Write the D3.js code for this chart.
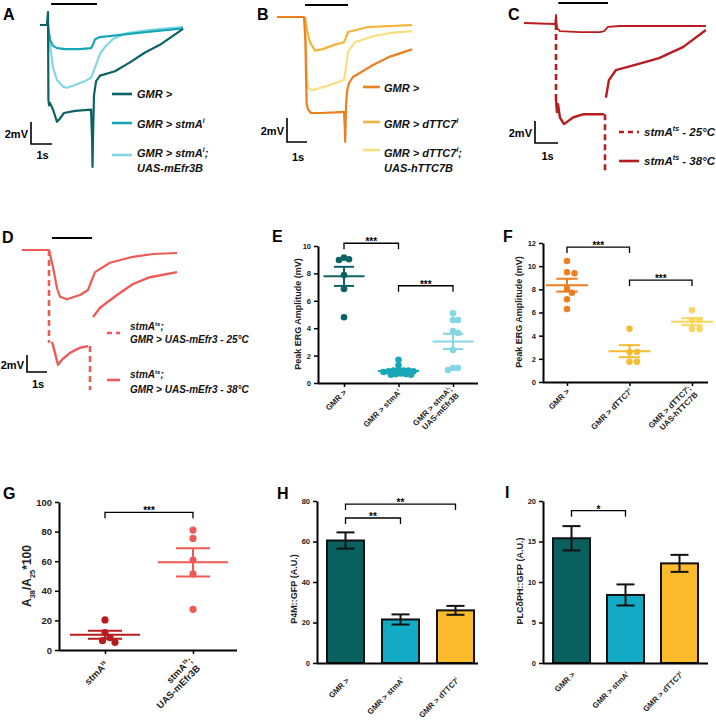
<!DOCTYPE html>
<html>
<head>
<meta charset="utf-8">
<script src="https://cdn.jsdelivr.net/npm/d3@7"></script>
<style>
body { margin: 0; background: #fff; }
svg { font-family: Arial, "Liberation Sans", sans-serif; }
</style>
</head>
<body>
<div id="viz"></div>
<script>
// ---------------- data ----------------
// ERG traces: [time (s) from light onset, potential (mV) from baseline]
var aGMR = [[-0.38,0],[-0.05,0],[0,1.18],[0.02,-6.8],[0.05,-7.3],[0.1,-7.1],[0.24,-7.7],[0.43,-8.8],[0.57,-8.5],[0.76,-8.0],[1.29,-7.8],[2.05,-7.7],[2.1,-10.4],[2.12,-12.9],[2.14,-10.4],[2.19,-6.4],[2.29,-5.1],[2.48,-4.6],[3.19,-4.2],[3.9,-3.4],[4.62,-2.5],[5.33,-1.8],[6.43,-0.36]];
var aStmA = [[0,0],[0.1,-1.36],[0.24,-1.9],[0.43,-2.1],[0.81,-2.2],[1.52,-2.2],[2.05,-2.1],[2.14,-1.8],[2.24,-1.3],[2.48,-1.1],[3.43,-0.9],[4.86,-0.6],[6.43,-0.3]];
var aEfr3B = [[0,0],[0.1,-1.8],[0.24,-3.9],[0.43,-5.0],[0.71,-5.6],[0.9,-5.7],[1.29,-5.45],[1.76,-5.1],[2.05,-4.8],[2.19,-4.1],[2.33,-3.4],[2.48,-2.6],[2.76,-1.9],[3.1,-1.27],[3.76,-0.73],[4.86,-0.45],[6.43,-0.18]];

var bGMR = [[-1.4,0],[-0.05,0],[0.02,-2],[0.08,-7.2],[0.15,-7.7],[0.3,-8.0],[0.8,-8.0],[1.5,-7.95],[1.95,-7.9],[1.99,-9.2],[2.01,-10.4],[2.05,-7.5],[2.1,-6.2],[2.2,-5.5],[2.4,-5.0],[3.4,-4.0],[4.25,-3.3],[5.35,-2.7]];
var bTTC7 = [[0,0],[0.1,-1.1],[0.25,-2.1],[0.5,-2.8],[0.85,-2.7],[1.5,-2.3],[1.95,-2.1],[2.05,-1.7],[2.15,-1.25],[2.5,-1.1],[3.1,-0.85],[4.25,-0.75],[5.35,-0.67]];
var bHTTC7B = [[0,0],[0.05,-2.5],[0.1,-5.0],[0.15,-5.9],[0.35,-6.1],[1.1,-5.75],[1.95,-5.25],[2.05,-4.2],[2.15,-2.9],[2.5,-2.1],[3.4,-1.6],[4.25,-1.33],[5.35,-1.17]];

var c25 = [[-1.39,0.09],[-0.04,0],[0,0.82],[0.04,-0.36],[0.17,-0.64],[1.04,-0.73],[1.91,-0.73],[2.09,-0.64],[2.26,-0.27],[2.78,-0.18],[6.52,-0.18]];
var c38On = [[0,-6.9],[0.04,-8.0],[0.09,-7.3],[0.17,-8.5],[0.35,-9.1],[0.74,-8.5],[1.2,-8.2],[2.09,-8.2]];
var c38Off = [[2.17,-6.7],[2.3,-5.1],[2.6,-4.2],[3.48,-3.7],[4.48,-3.1],[5.52,-2.1],[6.52,-0.55]];
var c38DashOn = [[0,0],[0,-7.2]];
var c38DashOff = [[2.13,-8.2],[2.13,-13.5]];

var d25 = [[-1.35,0],[0,0],[0.2,-2.0],[0.4,-4.5],[0.55,-5.5],[0.9,-5.8],[1.55,-5.3],[1.95,-4.7],[2.15,-3.5],[2.3,-2.6],[3.05,-1.5],[4.2,-0.8],[5.2,-0.47],[6.4,-0.35]];
var d38On = [[0.15,-10.8],[0.3,-12.1],[0.45,-13.5],[0.65,-12.9],[1.05,-12.1],[1.55,-11.5],[1.95,-11.3]];
var d38Off = [[2.2,-7.9],[2.55,-6.8],[3.4,-5.3],[4.2,-4.0],[5.05,-3.2],[6.4,-2.6]];
var d38DashOn = [[0,0],[0,-10.9]];
var d38DashOff = [[2.05,-11.3],[2.05,-16.5]];

// E: peak ERG amplitude (mV)
var eCats = ["GMR >", "GMR > stmA^{i}", "GMR > stmA^{i};|UAS-mEfr3B"];
var eGMR = [9.15, 9.03, 8.98, 7.88, 6.86, 4.8];
var eStmA = [1.7, 1.3, 0.95, 0.9, 0.9, 0.9, 0.85, 0.85, 0.8, 0.7, 0.65, 0.65, 0.6, 0.6];
var eEfr3B = [5.09, 4.6, 4.6, 3.8, 3.65, 2.4, 1.1, 1.1, 0.95];
var eTicks = [0, 2, 4, 6, 8, 10];
var eBrackets = [[0, 1, 10.2, "***"], [1, 2, 7.1, "***"]];

// F: peak ERG amplitude (mV)
var fCats = ["GMR >", "GMR > dTTC7^{i}", "GMR > dTTC7^{i};|UAS-hTTC7B"];
var fGMR = [10.45, 9.47, 9.39, 8.06, 7.71, 7.14, 6.3];
var fTTC7 = [4.6, 2.6, 2.6, 1.75, 1.75];
var fHTTC7B = [6.2, 5.35, 5.35, 4.57, 4.57];
var fTicks = [0, 2, 4, 6, 8, 10, 12];
var fBrackets = [[0, 1, 11.65, "***"], [1, 2, 8.8, "***"]];

// G: A38/A25*100
var gCats = ["stmA^{ts}", "stmA^{ts};|UAS-mEfr3B"];
var gStmA = [20.3, 11.7, 8.3, 6.3, 5.2];
var gEfr3B = [81, 75.4, 60.8, 51.4, 27.5];
var gTicks = [0, 20, 40, 60, 80, 100];
var gBrackets = [[0, 1, 93, "***"]];

// H: P4M::GFP
var hCats = ["GMR >", "GMR > stmA^{i}", "GMR > dTTC7^{i}"];
var hMeans = [60.5, 21.5, 26];
var hSems = [4, 2.5, 2.2];
var hTicks = [0, 20, 40, 60, 80];
var hBrackets = [[0, 2, 78.5, "**"], [0, 1, 71.6, "**"]];

// I: PLCdPH::GFP
var iCats = ["GMR >", "GMR > stmA^{i}", "GMR > dTTC7^{i}"];
var iMeans = [15.4, 8.4, 12.3];
var iSems = [1.5, 1.3, 1.05];
var iTicks = [0, 5, 10, 15, 20];
var iBrackets = [[0, 1, 18.8, "*"]];

var teal = ["#0c6366", "#17a7b8", "#84d7e2"];
var orange = ["#ec7f1f", "#f4b43a", "#f9df80"];
var scatOrange = ["#ee7d1e", "#f6bb2e", "#fbd65a"];
var barCols = ["#0a5f5f", "#12aac4", "#f9bb2a"];
var red38 = "#b71c1f", coral = "#ee5a56";

// ---------------- drawing ----------------
var svg = d3.select("#viz").append("svg")
	.attr("width", 716)
	.attr("height", 721);
svg.append("rect").attr("width", 716).attr("height", 721).attr("fill", "#fff");

// text with ^{sup} and _{sub} markup
function rich(text, str, fs) {
	var re = /\^\{([^}]*)\}|_\{([^}]*)\}/g, last = 0, cur = 0, m;
	function add(s, tgt, small) {
		if (!s) return;
		var t = text.append("tspan").text(s).attr("dy", tgt - cur);
		if (small) t.attr("font-size", fs * 0.62);
		cur = tgt;
	}
	while ((m = re.exec(str)) !== null) {
		add(str.slice(last, m.index), 0, false);
		if (m[1] !== undefined) add(m[1], -fs * 0.42, true);
		else add(m[2], fs * 0.3, true);
		last = re.lastIndex;
	}
	add(str.slice(last), 0, false);
	return text;
}

function letter(x, y, s) {
	svg.append("text").attr("x", x).attr("y", y)
		.attr("font-size", 16).attr("font-weight", "bold").text(s);
}

function tracePanel(p) {
	var g = svg.append("g");
	var x = d3.scaleLinear().domain([0, 1]).range([p.ox, p.ox + p.sx]);
	var y = d3.scaleLinear().domain([0, 1]).range([p.oy, p.oy - p.sy]);
	var line = d3.line().x(function(d){ return x(d[0]); }).y(function(d){ return y(d[1]); });

	p.traces.forEach(function(tr){
		g.append("path").datum(tr.pts)
			.attr("d", line)
			.attr("fill", "none")
			.attr("stroke", tr.color)
			.attr("stroke-width", tr.w || 2.2)
			.attr("stroke-linejoin", "round")
			.attr("stroke-dasharray", tr.dash ? "6,4" : null);
	});

	// light stimulus
	g.append("line")
		.attr("x1", x(p.stim[0])).attr("x2", x(p.stim[1]))
		.attr("y1", p.stimY).attr("y2", p.stimY)
		.attr("stroke", "#000").attr("stroke-width", 2);

	// scale bar 1 s / 2 mV
	var bx = p.bar[0], by = p.bar[1];
	var l1 = x(1) - x(0), l2 = y(0) - y(2);
	g.append("path")
		.attr("d", "M" + bx + "," + (by - l2) + "V" + by + "H" + (bx + l1))
		.attr("fill", "none").attr("stroke", "#000").attr("stroke-width", 1.6);
	g.append("text").attr("x", bx - 3).attr("y", by - l2 / 2 + 5)
		.attr("text-anchor", "end").attr("font-size", 11).attr("font-weight", "bold").text("2mV");
	g.append("text").attr("x", bx + l1 / 2 + 1).attr("y", by + p.sDy)
		.attr("text-anchor", "middle").attr("font-size", 11).attr("font-weight", "bold").text("1s");

	// legend
	p.legend.forEach(function(l){
		g.append("line")
			.attr("x1", p.lx[0]).attr("x2", p.lx[1])
			.attr("y1", l.y).attr("y2", l.y)
			.attr("stroke", l.color).attr("stroke-width", 2.6)
			.attr("stroke-dasharray", l.dash ? "5,4" : null);
		l.text.forEach(function(tx){
			var t = g.append("text").attr("x", p.tx).attr("y", tx[1])
				.attr("font-size", p.fs).attr("font-weight", "bold").attr("font-style", "italic")
				.attr("fill", "#111");
			rich(t, tx[0], p.fs);
		});
	});
}

function styleAxis(ag, fs) {
	ag.attr("font-family", null);
	ag.select(".domain").attr("stroke-width", 2);
	ag.selectAll(".tick line").attr("stroke-width", 1.5);
	ag.selectAll(".tick text").attr("font-size", fs).attr("font-weight", "bold").attr("fill", "#222");
}

function xLabels(g, xs, cats, p) {
	cats.forEach(function(c, i){
		var lines = c.split("|"), n = lines.length;
		lines.forEach(function(ln, k){
			var t = g.append("text")
				.attr("transform", "translate(" + (xs[i] + p.lab[0]) + "," + (p.yBase + p.lab[1]) + ") rotate(-45)")
				.attr("y", (k - (n - 1) / 2) * p.xfs * 1.15)
				.attr("text-anchor", "end")
				.attr("font-size", p.xfs).attr("font-weight", "bold").attr("fill", "#222");
			rich(t, ln, p.xfs);
		});
	});
}

function yLabel(g, p) {
	var t = g.append("text")
		.attr("transform", "translate(" + p.yl[0] + "," + p.yl[1] + ") rotate(-90)")
		.attr("text-anchor", "middle")
		.attr("font-size", p.yfs).attr("font-weight", "bold").attr("fill", "#222");
	rich(t, p.ylabel, p.yfs);
}

function brackets(g, xs, y, list) {
	list.forEach(function(b){
		var yb = y(b[2]);
		g.append("path")
			.attr("d", "M" + xs[b[0]] + "," + (yb + 6) + "V" + yb + "H" + xs[b[1]] + "V" + (yb + 6))
			.attr("fill", "none").attr("stroke", "#000").attr("stroke-width", 1.3);
		g.append("text").attr("x", (xs[b[0]] + xs[b[1]]) / 2).attr("y", yb + 2)
			.attr("text-anchor", "middle").attr("font-size", 10).attr("font-weight", "bold").text(b[3]);
	});
}

// simple beeswarm: horizontal offsets so dots only partly overlap
function swarm(vals, y, gap, step) {
	var placed = [];
	var cands = [0];
	for (var j = 1; j < 60; j++) { cands.push(j * step, -j * step); }
	vals.slice().sort(function(a, b){ return b - a; }).forEach(function(v){
		var py = y(v), off = 0;
		for (var c = 0; c < cands.length; c++) {
			var ok = placed.every(function(q){ return Math.hypot(q.x - cands[c], q.y - py) >= gap; });
			if (ok) { off = cands[c]; break; }
		}
		placed.push({x: off, y: py});
	});
	return placed;
}

function scatterPanel(p) {
	var g = svg.append("g");
	var y = d3.scaleLinear().domain([0, d3.max(p.ticks)]).range([p.yBase, p.yTop]);
	var x = d3.scalePoint().domain(p.cats).range(p.catRange);
	var xs = p.cats.map(function(c){ return x(c); });

	var ya = g.append("g").attr("transform", "translate(" + p.x0 + ",0)")
		.call(d3.axisLeft(y).tickValues(p.ticks).tickSize(4).tickSizeOuter(0));
	styleAxis(ya, p.tfs);
	var xa = g.append("g").attr("transform", "translate(0," + p.yBase + ")")
		.call(d3.axisBottom(x).tickSize(4).tickFormat(""));
	xa.select(".domain").remove();
	xa.selectAll(".tick line").attr("stroke-width", 1.5);
	g.append("line").attr("x1", p.x0).attr("x2", p.x1).attr("y1", p.yBase + 0.5).attr("y2", p.yBase + 0.5)
		.attr("stroke", "#000").attr("stroke-width", 2);

	p.groups.forEach(function(vals, i){
		var cx = xs[i], col = p.colors[i];
		swarm(vals, y, p.gap, 2.5).forEach(function(d){
			g.append("circle").attr("cx", cx + d.x).attr("cy", d.y).attr("r", p.r).attr("fill", col);
		});
		var m = d3.mean(vals), se = d3.deviation(vals) / Math.sqrt(vals.length);
		var ml = g.append("g").attr("stroke", col).attr("stroke-width", 2);
		ml.append("line").attr("x1", cx - p.mh).attr("x2", cx + p.mh).attr("y1", y(m)).attr("y2", y(m));
		ml.append("line").attr("x1", cx - p.sh).attr("x2", cx + p.sh).attr("y1", y(m + se)).attr("y2", y(m + se));
		ml.append("line").attr("x1", cx - p.sh).attr("x2", cx + p.sh).attr("y1", y(m - se)).attr("y2", y(m - se));
		ml.append("line").attr("x1", cx).attr("x2", cx).attr("y1", y(m + se)).attr("y2", y(m - se));
	});

	brackets(g, xs, y, p.brackets);
	yLabel(g, p);
	xLabels(g, xs, p.cats, p);
}

function barPanel(p) {
	var g = svg.append("g");
	var y = d3.scaleLinear().domain([0, d3.max(p.ticks)]).range([p.yBase, p.yTop]);
	var x = d3.scaleBand().domain(d3.range(p.cats.length)).range(p.band).paddingInner(p.pad);
	var xs = p.cats.map(function(c, i){ return x(i) + x.bandwidth() / 2; });

	g.selectAll("rect.bar").data(p.means).enter().append("rect")
		.attr("x", function(d, i){ return x(i); })
		.attr("y", function(d){ return y(d); })
		.attr("width", x.bandwidth())
		.attr("height", function(d){ return y(0) - y(d); })
		.attr("fill", function(d, i){ return p.colors[i]; })
		.attr("stroke", "#111").attr("stroke-width", 2);

	p.means.forEach(function(m, i){
		var se = p.sems[i], cx = xs[i];
		var eg = g.append("g").attr("stroke", "#111").attr("stroke-width", 2);
		eg.append("line").attr("x1", cx).attr("x2", cx).attr("y1", y(m + se)).attr("y2", y(m - se));
		eg.append("line").attr("x1", cx - 9).attr("x2", cx + 9).attr("y1", y(m + se)).attr("y2", y(m + se));
		eg.append("line").attr("x1", cx - 9).attr("x2", cx + 9).attr("y1", y(m - se)).attr("y2", y(m - se));
	});

	var ya = g.append("g").attr("transform", "translate(" + p.x0 + ",0)")
		.call(d3.axisLeft(y).tickValues(p.ticks).tickSize(4).tickSizeOuter(0));
	styleAxis(ya, p.tfs);
	g.append("line").attr("x1", p.x0).attr("x2", p.x1).attr("y1", p.yBase + 0.5).attr("y2", p.yBase + 0.5)
		.attr("stroke", "#000").attr("stroke-width", 2);

	brackets(g, xs, y, p.brackets);
	yLabel(g, p);
	xLabels(g, xs, p.cats, p);
}

// ---------- A ----------
letter(3, 20, "A");
tracePanel({
	ox: 48, oy: 25, sx: 21, sy: 11,
	stim: [0.15, 2.33], stimY: 4, bar: [31, 144], sDy: 15,
	traces: [
		{pts: aEfr3B, color: teal[2]},
		{pts: aStmA, color: teal[1]},
		{pts: aGMR, color: teal[0]}
	],
	lx: [112, 132], tx: 137, fs: 11,
	legend: [
		{y: 94, color: teal[0], text: [["GMR >", 98]]},
		{y: 123, color: teal[1], text: [["GMR > stmA^{i}", 128]]},
		{y: 155, color: teal[2], text: [["GMR > stmA^{i};", 157], ["UAS-mEfr3B", 172]]}
	]
});

// ---------- B ----------
letter(257, 20, "B");
tracePanel({
	ox: 305, oy: 17, sx: 20, sy: 12,
	stim: [0, 2.15], stimY: 5, bar: [287, 142], sDy: 19,
	traces: [
		{pts: bHTTC7B, color: orange[2]},
		{pts: bTTC7, color: orange[1]},
		{pts: bGMR, color: orange[0]}
	],
	lx: [363, 380], tx: 384, fs: 11,
	legend: [
		{y: 87, color: orange[0], text: [["GMR >", 92]]},
		{y: 122, color: orange[1], text: [["GMR > dTTC7^{i}", 128]]},
		{y: 150, color: orange[2], text: [["GMR > dTTC7^{i};", 157], ["UAS-hTTC7B", 172]]}
	]
});

// ---------- C ----------
letter(508, 20, "C");
tracePanel({
	ox: 556, oy: 24, sx: 23, sy: 11,
	stim: [0.1, 2.26], stimY: 3, bar: [535, 143], sDy: 17,
	traces: [
		{pts: c25, color: red38, w: 1.8},
		{pts: c38DashOn, color: red38, w: 2.6, dash: true},
		{pts: c38DashOff, color: red38, w: 2.6, dash: true},
		{pts: c38On, color: red38, w: 2.4},
		{pts: c38Off, color: red38, w: 2.4}
	],
	lx: [619, 639], tx: 644, fs: 11.5,
	legend: [
		{y: 132, color: red38, dash: true, text: [["stmA^{ts} - 25°C", 136]]},
		{y: 161, color: red38, text: [["stmA^{ts} - 38°C", 165]]}
	]
});

// ---------- D ----------
letter(2, 243, "D");
tracePanel({
	ox: 49, oy: 250, sx: 20, sy: 8.5,
	stim: [0.15, 2.15], stimY: 238, bar: [27, 372], sDy: 16,
	traces: [
		{pts: d25, color: coral, w: 2.2},
		{pts: d38DashOn, color: coral, w: 2.6, dash: true},
		{pts: d38DashOff, color: coral, w: 2.6, dash: true},
		{pts: d38On, color: coral, w: 2.4},
		{pts: d38Off, color: coral, w: 2.4}
	],
	lx: [107, 120], tx: 130, fs: 10,
	legend: [
		{y: 333, color: coral, dash: true, text: [["stmA^{ts};", 330], ["GMR > UAS-mEfr3 - 25°C", 343]]},
		{y: 380, color: coral, text: [["stmA^{ts};", 378], ["GMR > UAS-mEfr3 - 38°C", 393]]}
	]
});

// ---------- E ----------
letter(272, 242, "E");
scatterPanel({
	cats: eCats, groups: [eGMR, eStmA, eEfr3B], colors: teal,
	ticks: eTicks, brackets: eBrackets,
	x0: 318, x1: 478, yBase: 383, yTop: 246, catRange: [344, 453],
	r: 3.3, gap: 3.6, mh: 20.5, sh: 10, tfs: 7.5, xfs: 8, yfs: 9, lab: [3, 10],
	ylabel: "Peak ERG Amplitude (mV)", yl: [301, 314]
});

// ---------- F ----------
letter(503, 242, "F");
scatterPanel({
	cats: fCats, groups: [fGMR, fTTC7, fHTTC7B], colors: scatOrange,
	ticks: fTicks, brackets: fBrackets,
	x0: 543, x1: 708, yBase: 382, yTop: 243, catRange: [567, 692],
	r: 3.2, gap: 5.9, mh: 21, sh: 10.7, tfs: 7.5, xfs: 8, yfs: 9, lab: [3, 10],
	ylabel: "Peak ERG Amplitude (mV)", yl: [522, 312]
});

// ---------- G ----------
letter(3, 499, "G");
scatterPanel({
	cats: gCats, groups: [gStmA, gEfr3B], colors: [red38, coral],
	ticks: gTicks, brackets: gBrackets,
	x0: 59, x1: 237, yBase: 650, yTop: 502, catRange: [105, 193],
	r: 3.6, gap: 6.6, mh: 35, sh: 17, tfs: 9.5, xfs: 9.5, yfs: 12, lab: [4, 15],
	ylabel: "A_{38}/A_{25}*100", yl: [31, 576]
});

// ---------- H ----------
letter(277, 499, "H");
barPanel({
	cats: hCats, means: hMeans, sems: hSems, colors: barCols,
	ticks: hTicks, brackets: hBrackets,
	x0: 317, x1: 478, yBase: 663, yTop: 501, band: [327, 474], pad: 0.327,
	tfs: 7.5, xfs: 7.8, yfs: 9, lab: [4, 18],
	ylabel: "P4M::GFP (A.U.)", yl: [297, 589]
});

// ---------- I ----------
letter(505, 498, "I");
barPanel({
	cats: iCats, means: iMeans, sems: iSems, colors: barCols,
	ticks: iTicks, brackets: iBrackets,
	x0: 543, x1: 708, yBase: 663, yTop: 501, band: [553, 698], pad: 0.315,
	tfs: 7.5, xfs: 7.8, yfs: 9, lab: [4, 12],
	ylabel: "PLCδPH::GFP (A.U.)", yl: [523, 581]
});
</script>
</body>
</html>
